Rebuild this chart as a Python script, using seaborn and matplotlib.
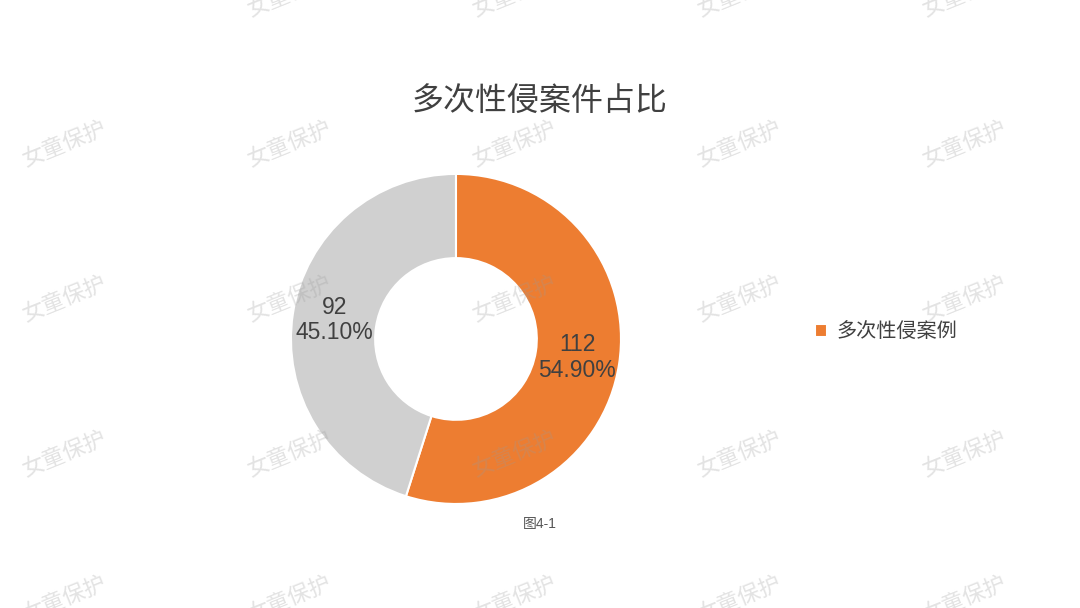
import numpy as np
import seaborn as sns
from matplotlib import pyplot as plt

# 数据
categories = ['多次性侵案例', '其他案例']
values = [112, 92]
legend_labels = ['多次性侵案例']
title = '多次性侵案件占比'
caption = '图4-1'
watermark = '女童保护'

sns.set_theme(style='white')
plt.rcParams['font.family'] = ['Liberation Sans', 'Noto Sans CJK SC', 'DejaVu Sans']

colors = ['#ED7D31', '#D0D0D0']
text_color = '#404040'

fig = plt.figure(figsize=(10.8, 6.08), dpi=100)
fig.patch.set_facecolor('white')

# 环形图，按像素位置放置
ax = fig.add_axes([0.2694, 0.1711, 0.3056, 0.5428])
total = sum(values)
wedges, _ = ax.pie(values, colors=colors, startangle=90, counterclock=False,
                   radius=1, wedgeprops=dict(width=0.51, edgecolor='white', linewidth=1.5))
ax.set_xlim(-1, 1)
ax.set_ylim(-1, 1)
ax.set_aspect('equal')
ax.axis('off')

# 数据标签放在环中间
start = 90
for v, w in zip(values, wedges):
    span = v / total * 360
    mid = np.deg2rad(start - span / 2)
    start -= span
    r = 0.745
    ax.text(r * np.cos(mid), r * np.sin(mid), f'{v}\n{v / total * 100:.2f}%',
            ha='center', va='center', fontsize=16.5, color=text_color, linespacing=1.15)

fig.text(0.5, 1 - 102 / 608, title, ha='center', va='center', fontsize=23,
         color=text_color, fontweight='medium')
fig.text(540 / 1080, 1 - 524 / 608, caption, ha='center', va='center', fontsize=10, color='#555555')

fig.legend(handles=[wedges[0]], labels=legend_labels, loc='center left',
           bbox_to_anchor=(797 / 1080, 1 - 332 / 608), frameon=False,
           fontsize=14.5, handlelength=0.6, handleheight=0.6, handletextpad=0.45,
           labelcolor=text_color)

# 水印
for yy in [-5, 145, 300, 455, 600]:
    for xx in [65, 290, 515, 740, 965]:
        if yy == -5 and xx == 65:
            continue
        fig.text(xx / 1080, 1 - yy / 608, watermark, ha='center', va='center',
                 fontsize=16, rotation=22, color='#9a9a9a', alpha=0.28,
                 fontweight='light', zorder=10)

plt.savefig('out.png', dpi=100, facecolor='white')
